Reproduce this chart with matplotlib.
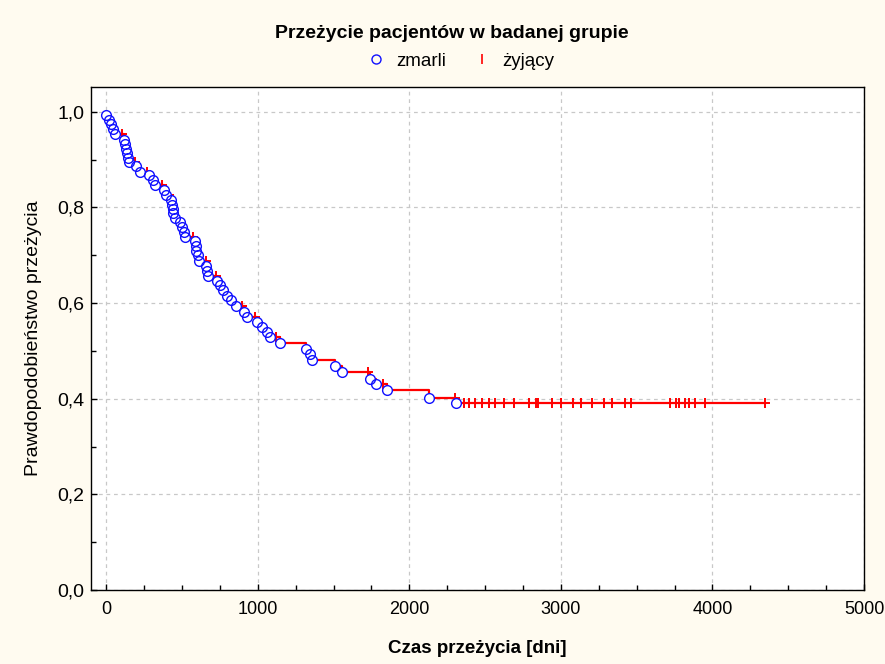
import numpy as np
import matplotlib.pyplot as plt
from matplotlib.lines import Line2D
from matplotlib.ticker import FuncFormatter, MultipleLocator

# deaths: day of death and survival estimate right after it
death_days = [0, 16, 30, 42, 57, 119, 125, 130, 138, 147, 152, 200, 221, 283, 306, 321,
              382, 395, 428, 433, 438, 443, 453, 488, 501, 512, 520, 583, 590, 596, 604,
              613, 661, 667, 674, 733, 754, 768, 795, 824, 860, 909, 931, 997, 1026, 1063,
              1078, 1144, 1320, 1342, 1355, 1507, 1553, 1739, 1779, 1853, 2128, 2305]
death_surv = [0.993, 0.982, 0.974, 0.964, 0.953, 0.942, 0.933, 0.923, 0.913, 0.904, 0.895,
              0.886, 0.875, 0.867, 0.857, 0.848, 0.837, 0.826, 0.816, 0.806, 0.797, 0.788,
              0.778, 0.769, 0.759, 0.748, 0.739, 0.729, 0.720, 0.710, 0.701, 0.689, 0.678,
              0.667, 0.657, 0.647, 0.637, 0.627, 0.614, 0.606, 0.594, 0.582, 0.572, 0.560,
              0.551, 0.540, 0.529, 0.516, 0.504, 0.493, 0.481, 0.469, 0.457, 0.441, 0.430,
              0.418, 0.402, 0.391]

# censored (alive) patients: last follow-up day
censor_days = [102, 188, 270, 369, 418, 570, 657, 727, 777, 898, 982, 1122, 1726, 1825,
               2300, 2358, 2396, 2436, 2479, 2523, 2567, 2622, 2694, 2787, 2833, 2846,
               2940, 3001, 3077, 3133, 3204, 3287, 3340, 3424, 3465, 3722, 3761, 3778,
               3816, 3844, 3887, 3950, 4348]

title = "Przeżycie pacjentów w badanej grupie"
x_label = "Czas przeżycia [dni]"
y_label = "Prawdopodobieństwo przeżycia"

plt.rcParams['font.family'] = ['Liberation Sans', 'DejaVu Sans']


def surv_at(day):
    # value of the step curve at a given day
    s = 1.0
    for d, v in zip(death_days, death_surv):
        if d <= day:
            s = v
    return s


censor_surv = [surv_at(d) for d in censor_days]

fig = plt.figure(figsize=(8.85, 6.64), dpi=100, facecolor='#fffbf0')
ax = fig.add_axes([0.1028, 0.1114, 0.8735, 0.7576])

# Kaplan-Meier step curve
step_x = [0] + death_days + [max(censor_days)]
step_y = [1.0] + death_surv + [death_surv[-1]]
ax.plot(step_x, step_y, drawstyle='steps-post', color='red', lw=1.6, zorder=3)

ax.plot(censor_days, censor_surv, ls='none', marker='+', ms=7.5, mew=1.4,
        color='red', zorder=4)

# white discs hide the line under the circles, outlines go on top
ax.plot(death_days, death_surv, ls='none', marker='o', ms=7, mfc='white',
        mec='none', zorder=5)
ax.plot(death_days, death_surv, ls='none', marker='o', ms=7, mfc='none',
        mec='#1010ff', mew=1.0, zorder=6)

ax.set_xlim(-100, 5000)
ax.set_ylim(0, 1.052)
ax.xaxis.set_major_locator(MultipleLocator(1000))
ax.xaxis.set_minor_locator(MultipleLocator(250))
ax.yaxis.set_major_locator(MultipleLocator(0.2))
ax.yaxis.set_minor_locator(MultipleLocator(0.1))
ax.yaxis.set_major_formatter(FuncFormatter(lambda v, p: f"{v:.1f}".replace('.', ',')))

ax.tick_params(which='both', direction='in', top=False, right=False, labelsize=13)
ax.tick_params(which='major', length=4, width=1)
ax.tick_params(which='minor', length=3.5, width=1)
ax.tick_params(axis='y', pad=5, labelsize=14)
ax.tick_params(axis='x', pad=8)

ax.grid(True, which='major', color='#c8c8c8', ls=(0, (3, 3)), lw=0.9)
for sp in ax.spines.values():
    sp.set_linewidth(1.0)
    sp.set_color('black')

ax.set_xlabel(x_label, fontsize=13.5, fontweight='bold', labelpad=16)
ax.set_ylabel(y_label, fontsize=14, labelpad=11)

fig.text(0.511, 0.950, title, ha='center', va='center', fontsize=14, fontweight='bold')

handles = [Line2D([], [], ls='none', marker='o', ms=6.5, mfc='none', mec='#1010ff'),
           Line2D([], [], ls='none', marker='|', ms=7, mew=1.2, color='red')]
fig.legend(handles, ['zmarli', 'żyjący'], loc='center', bbox_to_anchor=(0.52, 0.908),
           ncol=2, frameon=False, fontsize=13.5, handletextpad=0.6, columnspacing=1.4,
           handlelength=1.0)

fig.savefig('out.png', dpi=100, facecolor=fig.get_facecolor())
